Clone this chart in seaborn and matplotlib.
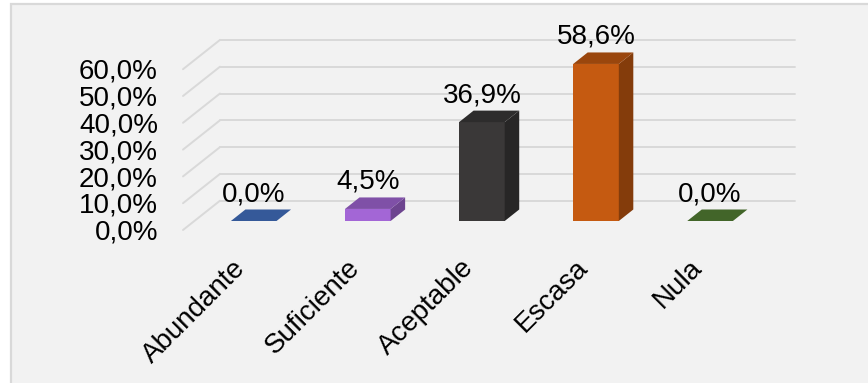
import matplotlib
matplotlib.use("Agg")
import matplotlib.pyplot as plt
import matplotlib.colors as mcolors
from matplotlib.patches import Polygon, Rectangle
import seaborn as sns
import pandas as pd

# ---- data -------------------------------------------------------------
categories = ["Abundante", "Suficiente", "Aceptable", "Escasa", "Nula"]
values = [0.0, 4.5, 36.9, 58.6, 0.0]
value_labels = ["0,0%", "4,5%", "36,9%", "58,6%", "0,0%"]
y_ticks = [0, 10, 20, 30, 40, 50, 60]
y_tick_labels = ["0,0%", "10,0%", "20,0%", "30,0%", "40,0%", "50,0%", "60,0%"]
bar_colors = ["#4472C4", "#A366D6", "#3A3838", "#C55A11", "#548235"]

# ---- style ------------------------------------------------------------
sns.set_theme(style="white")
plt.rcParams["font.family"] = ["Liberation Sans", "DejaVu Sans"]
FS = 20
GRID = "#d9d9d9"
DPI = 100
W, H = 868, 383

fig = plt.figure(figsize=(W / DPI, H / DPI), dpi=DPI)
fig.patch.set_facecolor("white")

# chart panel with a thin border on its top and left
fig.patches.append(Rectangle((10.5 / W, -0.05), 1.1, 1.05 - 4.5 / H,
                             transform=fig.transFigure, facecolor="#f2f2f2",
                             edgecolor=GRID, lw=1.6, zorder=-5))

# axes spanning the plane of the bar front faces
left_px, right_px, base_px, top_px = 194.4, 769.4, 221.0, 60.2
ax = fig.add_axes([left_px / W, (H - base_px) / H,
                   (right_px - left_px) / W, (base_px - top_px) / H])
ax.set_facecolor("none")

df = pd.DataFrame({"categoria": categories, "porcentaje": values})
sns.barplot(data=df, x="categoria", y="porcentaje", hue="categoria",
            palette=bar_colors, saturation=1, width=0.40, legend=False,
            ax=ax, zorder=3, edgecolor="none", linewidth=0)

X0, X1 = -0.52, 4.52
ax.set_xlim(X0, X1)
ax.set_ylim(0, 60)
for s in ax.spines.values():
    s.set_visible(False)
ax.set_xticks([])
ax.set_yticks([])
ax.set_xlabel("")
ax.set_ylabel("")

# pixel -> data scale factors
p0 = ax.transData.transform((0, 0))
p1 = ax.transData.transform((1, 1))
sx, sy = p1[0] - p0[0], p1[1] - p0[1]

# back wall and side wall gridlines (perspective offsets in pixels)
back_dx, back_dy = 25.6, 20.3
front_dx, front_dy = -11.4, -9.0
for v in y_ticks:
    ax.plot([X0 + back_dx / sx, X1 + back_dx / sx], [v + back_dy / sy] * 2,
            color=GRID, lw=1.4, clip_on=False, zorder=1)
    ax.plot([X0 + front_dx / sx, X0 + back_dx / sx],
            [v + front_dy / sy, v + back_dy / sy],
            color=GRID, lw=1.4, clip_on=False, zorder=1)

# 3D faces for each bar
depth_dx, depth_dy = 14.5 / sx, 11.5 / sy


def shade(color, f):
    r, g, b = mcolors.to_rgb(color)
    return (r * f, g * f, b * f)


bars = [p for p in ax.patches if isinstance(p, Rectangle)]
for bar, col in zip(bars, bar_colors):
    x0, w, h = bar.get_x(), bar.get_width(), bar.get_height()
    top = [(x0, h), (x0 + w, h), (x0 + w + depth_dx, h + depth_dy),
           (x0 + depth_dx, h + depth_dy)]
    side = [(x0 + w, 0), (x0 + w + depth_dx, depth_dy),
            (x0 + w + depth_dx, h + depth_dy), (x0 + w, h)]
    ax.add_patch(Polygon(side, closed=True, facecolor=shade(col, 0.67),
                         edgecolor="none", clip_on=False, zorder=3))
    ax.add_patch(Polygon(top, closed=True, facecolor=shade(col, 0.78),
                         edgecolor="none", clip_on=False, zorder=3))
    bar.set_clip_on(False)

# value labels above the bars
for i, (v, lab) in enumerate(zip(values, value_labels)):
    ax.text(i, v + 27 / sy, lab, ha="center", va="center", fontsize=FS,
            color="black", clip_on=False, zorder=5)

# y-axis labels on the front-left edge
for v, lab in zip(y_ticks, y_tick_labels):
    ax.text(X0 + (158 - left_px) / sx, v - 11.8 / sy, lab, ha="right",
            va="center", fontsize=FS, color="black", clip_on=False)

# rotated category labels
for i, cat in enumerate(categories):
    ax.text(i - 12 / sx, -43 / sy, cat, rotation=45, rotation_mode="anchor",
            ha="right", va="center", fontsize=FS, color="black",
            clip_on=False)

fig.savefig("out.png", dpi=DPI, facecolor=fig.get_facecolor())
